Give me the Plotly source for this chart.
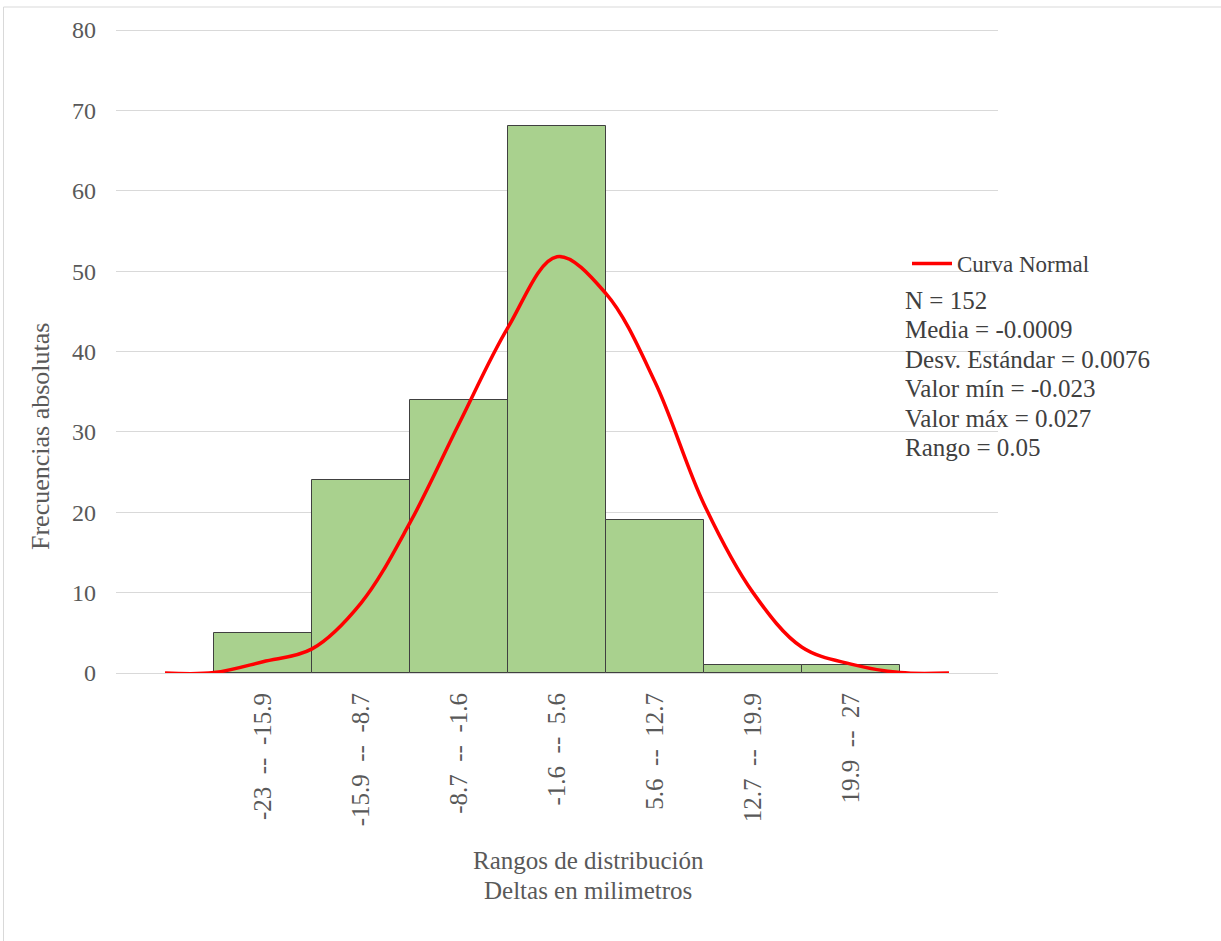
import plotly.graph_objects as go

# ---- data ----
categories = ["-23  --  -15.9", "-15.9  --  -8.7", "-8.7  --  -1.6", "-1.6  --  5.6",
              "5.6  --  12.7", "12.7  --  19.9", "19.9  --  27"]
frequencies = [5, 24, 34, 68, 19, 1, 1]
bin_positions = [0, 1, 2, 3, 4, 5, 6]

curve_x = [-1, -0.5, 0, 0.5, 1, 1.5, 2, 2.5, 3, 3.5, 4, 4.5, 5, 5.5, 6, 6.5, 7]
curve_y = [0, 0.05, 1.4, 3.0, 8.7, 18.7, 31, 43, 51.8, 47.2, 36.2, 21, 10, 3.2, 1.1, 0.05, 0]

stats_lines = ["N = 152", "Media = -0.0009", "Desv. Estándar = 0.0076",
               "Valor mín = -0.023", "Valor máx = 0.027", "Rango = 0.05"]
x_title_lines = ["Rangos de distribución", "Deltas en milimetros"]
y_ticks = [0, 10, 20, 30, 40, 50, 60, 70, 80]

FONT = "Liberation Serif, Times New Roman, serif"
GRAY = "#595959"
DARK = "#404040"

fig = go.Figure()
fig.add_trace(go.Bar(
    x=bin_positions, y=frequencies, width=1,
    marker=dict(color="#A9D18E", line=dict(color="#404040", width=1)),
    showlegend=False, hoverinfo="y"))
fig.add_trace(go.Scatter(
    x=curve_x, y=curve_y, mode="lines", name="Curva Normal",
    line=dict(color="#FF0000", width=3.5, shape="spline", smoothing=1)))

tick_text = [c.replace(" ", "\u00a0") for c in categories]

L, R, T, B = 116, 223, 26, 268
W, H = 1221, 941
pw, ph = W - L - R, H - T - B

def px(xp):
    return (xp - L) / pw

def py(yp):
    return (H - B - yp) / ph

annotations = []
for i, line in enumerate(stats_lines):
    annotations.append(dict(
        text=line, xref="paper", yref="paper", x=px(903), y=py(300 + i * 29.6),
        xanchor="left", yanchor="middle", align="left", showarrow=False,
        font=dict(family=FONT, size=25, color=DARK)))
for i, line in enumerate(x_title_lines):
    annotations.append(dict(
        text=line, xref="paper", yref="paper", x=px(588), y=py(860 + i * 30),
        xanchor="center", yanchor="middle", showarrow=False,
        font=dict(family=FONT, size=25, color=GRAY)))
annotations.append(dict(
    text="Frecuencias absolutas", xref="paper", yref="paper",
    x=px(40), y=py(437), xanchor="center", yanchor="middle", textangle=-90,
    showarrow=False, font=dict(family=FONT, size=26, color=GRAY)))

fig.update_layout(
    width=W, height=H,
    margin=dict(l=L, r=R, t=T, b=B, autoexpand=False),
    plot_bgcolor="white", paper_bgcolor="white",
    font=dict(family=FONT, color=GRAY, size=22),
    bargap=0,
    xaxis=dict(range=[-1.5, 7.5], tickmode="array", tickvals=bin_positions,
               ticktext=tick_text, tickangle=-90, showgrid=False, zeroline=False,
               showline=False, ticks="", ticklabelstandoff=14,
               tickfont=dict(family=FONT, size=25, color=GRAY)),
    yaxis=dict(range=[0, 80.5], tickmode="array", tickvals=y_ticks,
               showgrid=True, gridcolor="#D9D9D9", gridwidth=1,
               zeroline=True, zerolinecolor="#D9D9D9", zerolinewidth=1,
               showline=False, ticks="", ticklabelstandoff=19,
               tickfont=dict(family=FONT, size=24, color=GRAY)),
    legend=dict(x=px(907), y=py(242), xanchor="left", yanchor="top",
                itemwidth=40,
                font=dict(family=FONT, size=23, color=DARK),
                bgcolor="rgba(0,0,0,0)", borderwidth=0),
    annotations=annotations,
    shapes=[
        dict(type="rect", xref="paper", yref="paper",
             x0=px(3.5), x1=px(1230), y0=py(950), y1=py(7),
             line=dict(color="#D9D9D9", width=1), fillcolor="rgba(0,0,0,0)",
             layer="below"),
    ],
)

fig.write_html("out.html", config={"displayModeBar": False},
               post_script="document.body.style.margin='0';document.body.style.overflow='hidden';")
